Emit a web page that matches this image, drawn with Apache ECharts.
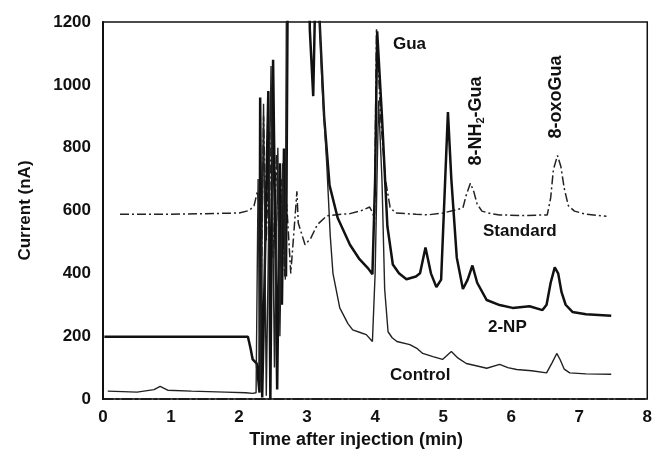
<!DOCTYPE html>
<html>
<head>
<meta charset="utf-8">
<title>Chromatogram</title>
<script src="https://cdn.jsdelivr.net/npm/echarts@6/dist/echarts.min.js"></script>
<style>
  html, body { margin: 0; padding: 0; background: #fff; }
  #main { width: 655px; height: 454px; }
</style>
</head>
<body>
<div id="main"></div>
<script>
// Standard trace (dash-dot)
var stdTime = [0.25, 1.0, 2.0, 2.15, 2.22, 2.27, 2.3, 2.33, 2.36, 2.4, 2.45, 2.5, 2.55, 2.6, 2.63, 2.67, 2.7, 2.76,
  2.83, 2.85, 2.87, 2.97, 3.05, 3.15, 3.29, 3.5, 3.63, 3.8, 3.92, 3.97, 3.99, 4.02, 4.08, 4.15, 4.22, 4.3, 4.6, 4.77,
  5.0, 5.29, 5.34, 5.4, 5.45, 5.5, 5.57, 5.7, 5.83, 6.2, 6.53, 6.58, 6.62, 6.68, 6.73, 6.78, 6.84, 6.93, 7.1, 7.4];
var stdCurrent = [588, 588, 592, 600, 615, 661, 600, 420, 900, 500, 850, 450, 780, 420, 700, 390, 620, 400,
  600, 661, 560, 491, 510, 555, 583, 588, 590, 600, 611, 590, 554, 1180, 900, 700, 610, 592, 588, 586,
  592, 608, 650, 687, 660, 620, 598, 590, 586, 584, 586, 640, 730, 775, 740, 670, 615, 598, 588, 582];

// 2-NP trace (thick solid)
var npTime = [0.02, 1.0, 2.0, 2.13, 2.17, 2.2, 2.26, 2.3, 2.31, 2.34, 2.43, 2.46, 2.5, 2.56, 2.6, 2.63, 2.66, 2.69,
  2.72, 3.02, 3.04, 3.09, 3.14, 3.18, 3.25, 3.33, 3.45, 3.63, 3.77, 3.9, 3.96, 4.0, 4.03, 4.1, 4.18, 4.26, 4.35, 4.46,
  4.6, 4.66, 4.74, 4.82, 4.9, 4.97, 5.03, 5.07, 5.12, 5.2, 5.29, 5.36, 5.43, 5.5, 5.64, 5.83, 6.02, 6.27, 6.46,
  6.52, 6.58, 6.64, 6.69, 6.74, 6.8, 6.9, 7.1, 7.47];
var npCurrent = [198, 198, 198, 198, 160, 126, 113, 20, 960, 5, 980, 0, 1080, 30, 750, 300, 797, 390,
  1500, 1500, 1175, 964, 1500, 1220, 900, 680, 576, 491, 445, 415, 397, 700, 1170, 900, 550, 428, 400, 381,
  390, 400, 482, 400, 356, 380, 700, 913, 700, 450, 350, 380, 425, 370, 315, 299, 290, 295, 283,
  300, 370, 419, 400, 340, 300, 277, 270, 265];

// Control trace (thin solid)
var ctlTime = [0.07, 0.5, 0.75, 0.84, 0.95, 1.3, 1.8, 2.1, 2.2, 2.25, 2.28, 2.31, 2.36, 2.4, 2.47, 2.52, 2.57, 2.6,
  2.64, 2.68, 2.7, 3.13, 3.22, 3.29, 3.34, 3.38, 3.48, 3.6, 3.67, 3.8, 3.87, 3.96, 4.0, 4.05, 4.1, 4.14, 4.19, 4.25,
  4.32, 4.51, 4.62, 4.7, 4.85, 4.99, 5.12, 5.22, 5.34, 5.5, 5.64, 5.83, 5.95, 6.08, 6.3, 6.52, 6.6, 6.67, 6.72,
  6.78, 6.86, 7.1, 7.47];
var ctlCurrent = [25, 22, 30, 40, 28, 25, 22, 20, 18, 20, 700, 60, 940, 10, 1060, 100, 800, 200,
  750, 380, 1500, 1500, 1000, 743, 520, 400, 290, 240, 220, 210, 205, 183, 400, 950, 700, 350, 214, 195,
  183, 173, 160, 145, 135, 126, 151, 130, 113, 105, 98, 110, 100, 94, 90, 83, 115, 145, 125,
  95, 83, 80, 79];

var xTicks = [0, 1, 2, 3, 4, 5, 6, 7, 8];
var yTicks = [0, 200, 400, 600, 800, 1000, 1200];

function pairs(t, v) {
  return t.map(function (x, i) { return [x, v[i]]; });
}

var font = "'Liberation Sans', Arial, sans-serif";
var ink = '#111';

var myChart = echarts.init(document.getElementById('main'));
var option = {
  animation: false,
  backgroundColor: '#fff',
  textStyle: { fontFamily: font },
  grid: {
    left: 103, right: 7, top: 22, bottom: 51, containLabel: false,
    show: true, borderColor: ink, borderWidth: 1.5, backgroundColor: 'transparent'
  },
  xAxis: {
    type: 'value',
    min: xTicks[0],
    max: xTicks[xTicks.length - 1],
    interval: 1,
    name: 'Time after injection (min)',
    nameLocation: 'middle',
    nameGap: 32,
    nameTextStyle: { fontSize: 18, fontWeight: 'bold', color: ink, fontFamily: font, padding: [0, 38, 0, 0] },
    axisLine: { show: true, lineStyle: { color: ink, width: 1.5, type: [10, 3, 3, 3] } },
    axisTick: { show: false },
    splitLine: { show: false },
    axisLabel: { fontSize: 17, fontWeight: 'bold', color: ink, margin: 10, fontFamily: font }
  },
  yAxis: {
    type: 'value',
    min: yTicks[0],
    max: yTicks[yTicks.length - 1],
    interval: 200,
    name: 'Current (nA)',
    nameLocation: 'middle',
    nameGap: 69,
    nameTextStyle: { fontSize: 17, fontWeight: 'bold', color: ink, fontFamily: font },
    axisLine: { show: true, lineStyle: { color: ink, width: 2 } },
    axisTick: { show: false },
    splitLine: { show: false },
    axisLabel: {
      fontSize: 17, fontWeight: 'bold', color: ink, margin: 12, fontFamily: font,
      formatter: function (v) { return String(v); }
    }
  },
  series: [{
    name: 'Standard',
    type: 'line',
    data: pairs(stdTime, stdCurrent),
    showSymbol: false,
    clip: true,
    lineStyle: { color: '#222', width: 1.5, type: [9, 3, 2, 3] }
  }, {
    name: '2-NP',
    type: 'line',
    data: pairs(npTime, npCurrent),
    showSymbol: false,
    clip: true,
    lineStyle: { color: ink, width: 2.5 }
  }, {
    name: 'Control',
    type: 'line',
    data: pairs(ctlTime, ctlCurrent),
    showSymbol: false,
    clip: true,
    lineStyle: { color: '#222', width: 1.4 }
  }],
  graphic: [
    { type: 'text', x: 393, y: 44, style: { text: 'Gua', fontSize: 17, fontWeight: 'bold', fill: ink, fontFamily: font, textVerticalAlign: 'middle' } },
    { type: 'text', x: 483, y: 231, style: { text: 'Standard', fontSize: 17, fontWeight: 'bold', fill: ink, fontFamily: font, textVerticalAlign: 'middle' } },
    { type: 'text', x: 488, y: 327, style: { text: '2-NP', fontSize: 17, fontWeight: 'bold', fill: ink, fontFamily: font, textVerticalAlign: 'middle' } },
    { type: 'text', x: 390, y: 375, style: { text: 'Control', fontSize: 17, fontWeight: 'bold', fill: ink, fontFamily: font, textVerticalAlign: 'middle' } },
    {
      type: 'text', x: 476, y: 121, rotation: Math.PI / 2,
      style: {
        text: '{a|8-NH}{s|2}{a|-Gua}',
        textAlign: 'center', textVerticalAlign: 'middle', fill: ink,
        rich: {
          a: { fontSize: 18, fontWeight: 'bold', fontFamily: font, fill: ink },
          s: { fontSize: 11, fontWeight: 'bold', fontFamily: font, fill: ink, padding: [10, 0, 0, 0] }
        }
      }
    },
    { type: 'text', x: 556, y: 97, rotation: Math.PI / 2, style: { text: '8-oxoGua', fontSize: 18, fontWeight: 'bold', fill: ink, fontFamily: font, textAlign: 'center', textVerticalAlign: 'middle' } }
  ]
};
myChart.setOption(option);
</script>
</body>
</html>
